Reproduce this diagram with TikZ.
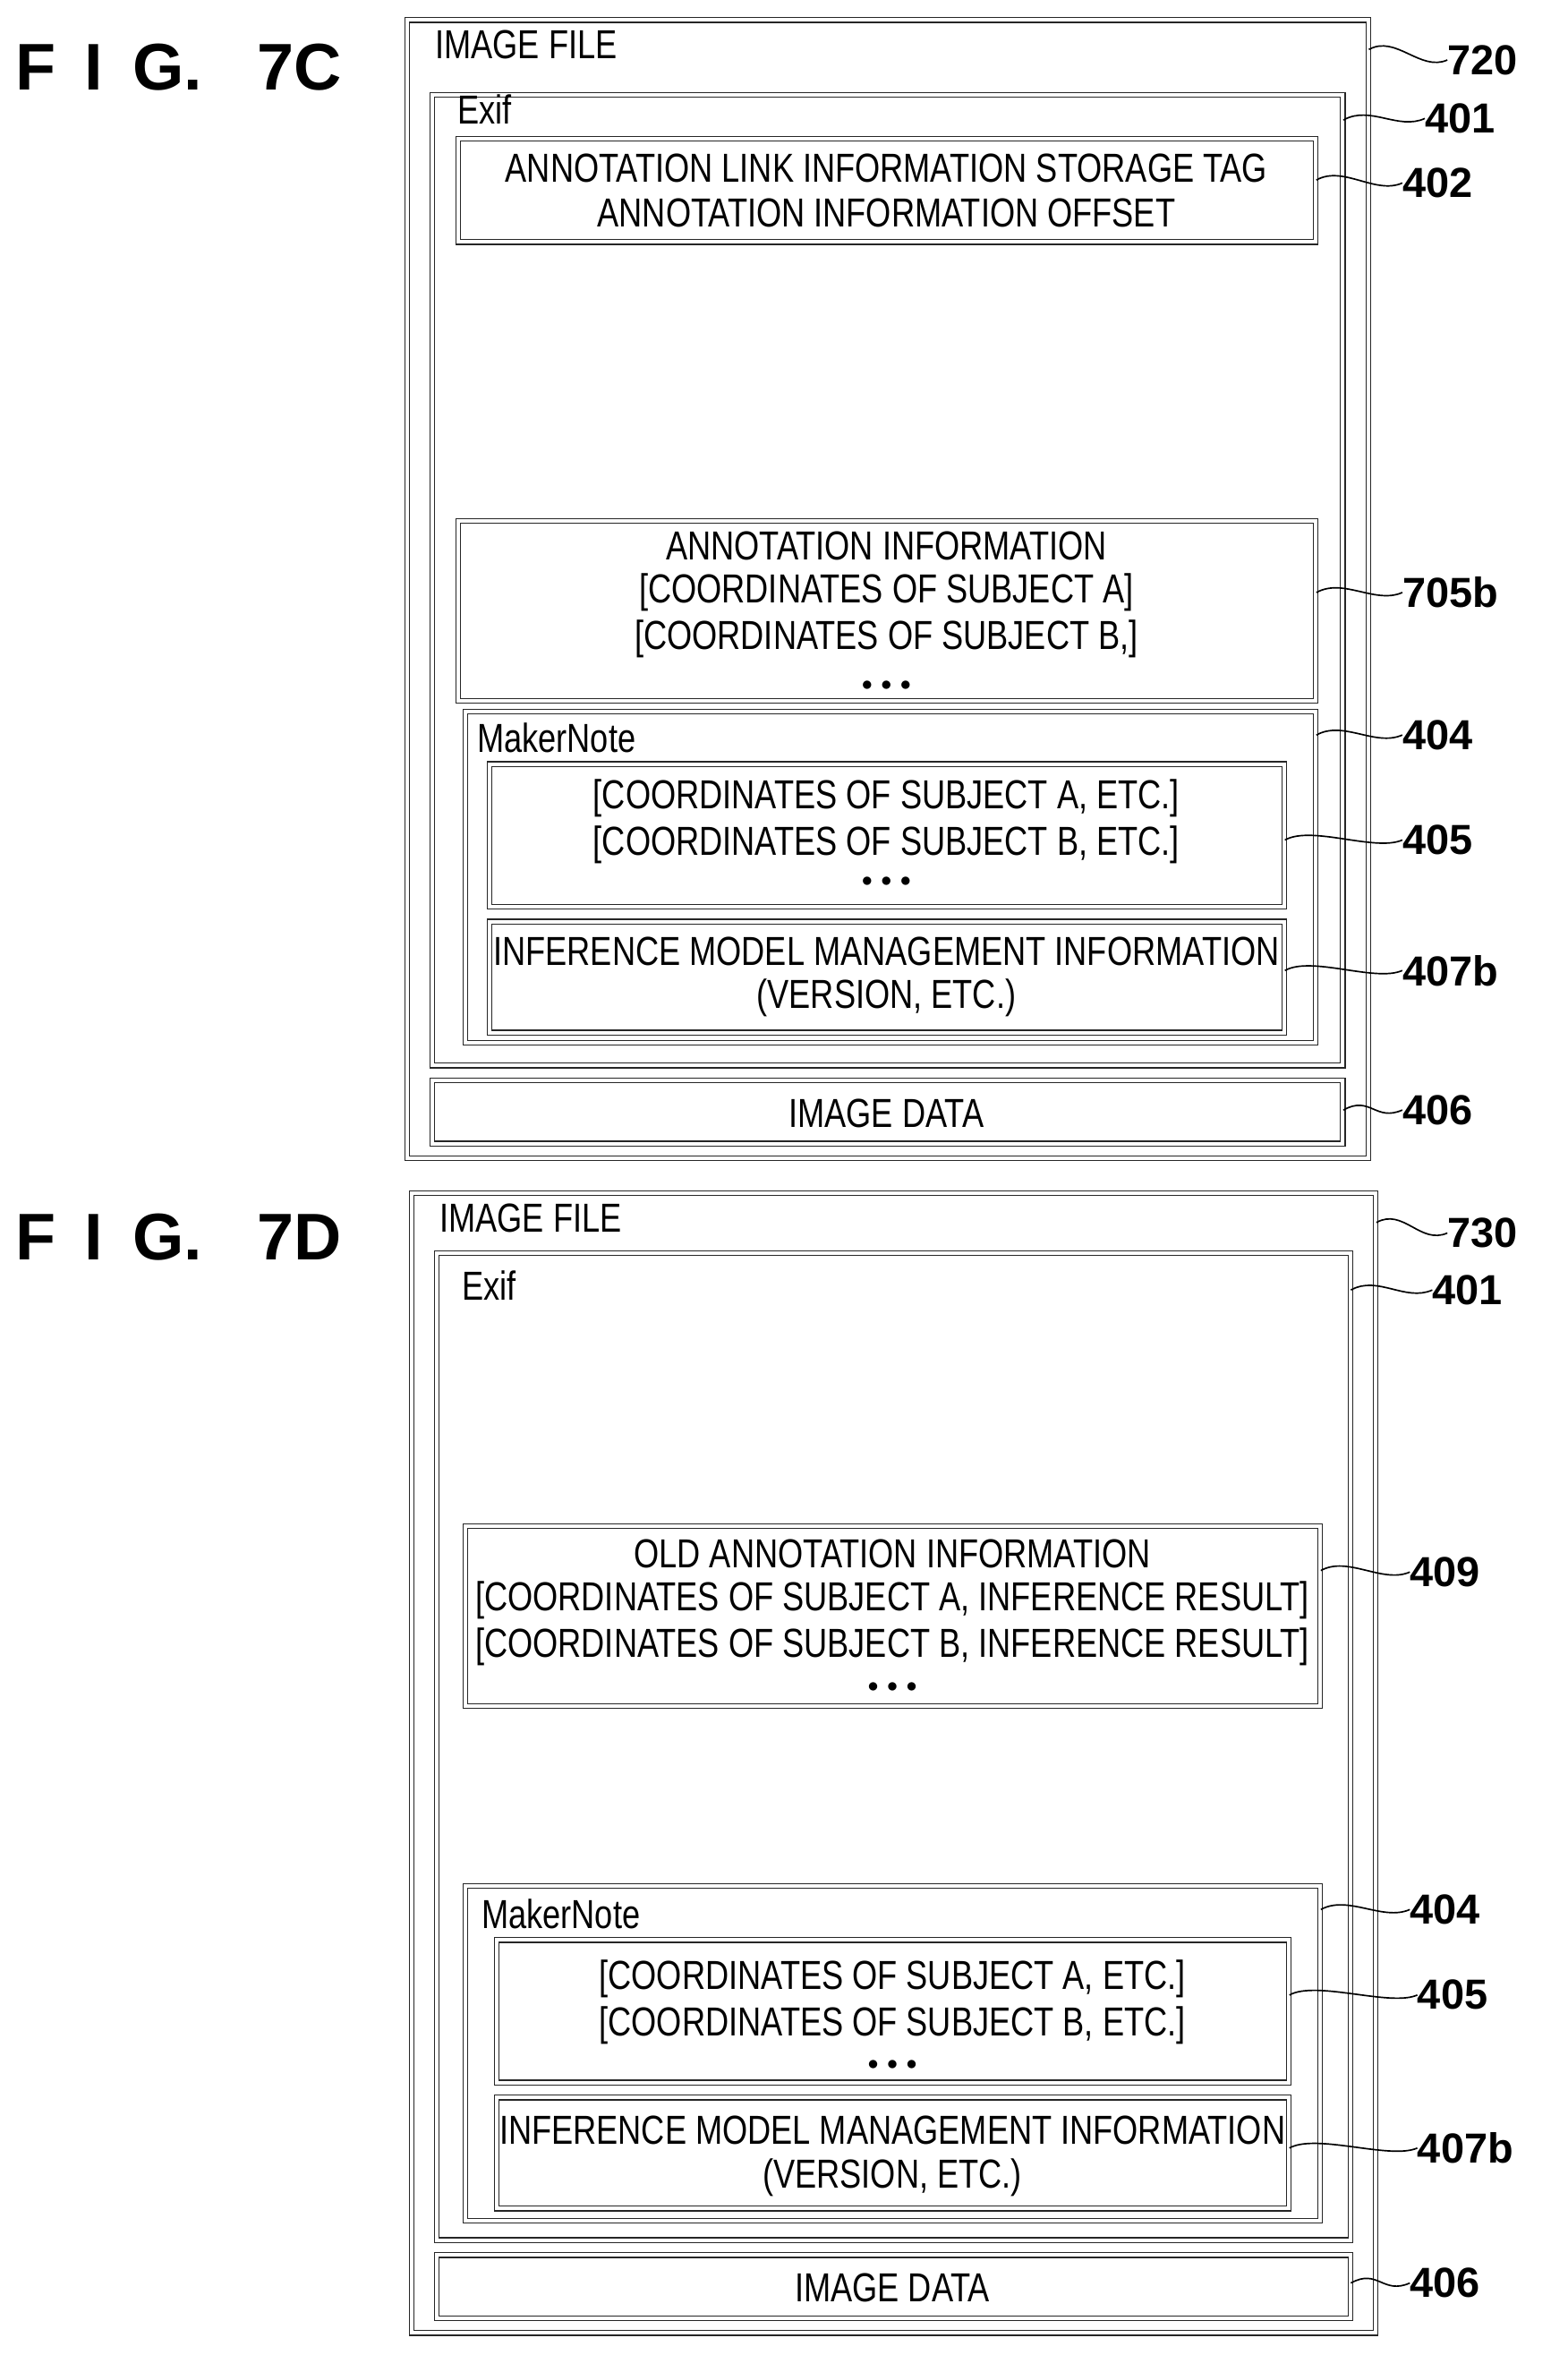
\documentclass[tikz,border=0pt]{standalone}
\usepackage{fontspec}
\setmainfont{Liberation Sans}[FakeStretch=0.8]
\newfontfamily\lblfont{Liberation Sans}
\begin{document}
\begin{tikzpicture}[x=1pt,y=-1pt,
  box/.style={draw=black!85,double=white,double distance=2.4pt,line width=0.7pt,anchor=north west,inner sep=0pt},
  txt/.style={font=\fontsize{27}{30}\selectfont,inner sep=0pt},
  dots/.style={font=\fontsize{14}{16}\selectfont,inner sep=0pt},
  ttl/.style={font=\fontsize{27}{30}\selectfont,inner sep=0pt,anchor=west},
  lbl/.style={font=\lblfont\bfseries\fontsize{28}{30}\selectfont,inner sep=0pt,anchor=west},
  fig/.style={font=\lblfont\bfseries\fontsize{44}{46}\selectfont,inner sep=0pt,anchor=west},
  leader/.style={line width=1pt}]
\useasboundingbox (0,0) rectangle (1045,1570);
\newcommand\bx[5]{\node[box,minimum width=#4-#2,minimum height=#5-#3] (#1) at (#2,#3) {};}
% ---------- 7C
\node[fig] (f7c) at (10,45) {F\,\ I\,\ G.\ \ \ 7C};
\bx{c720}{271}{13}{912}{772}
\bx{c401}{288}{63}{895}{710}
\bx{c402}{305}{92}{877}{161}
\bx{c705}{305}{347}{877}{467}
\bx{c404}{310}{474}{877}{695}
\bx{c405}{326}{509}{856}{604}
\bx{c407}{326}{614}{856}{688}
\bx{c406}{288}{720}{895}{762}
\node[ttl] (t1) at (290,30) {IMAGE FILE};
\node[ttl] (t2) at (305,73) {Exif};
\node[txt] (t3) at (591,112) {ANNOTATION LINK INFORMATION STORAGE TAG};
\node[txt] (t4) at (591,142) {ANNOTATION INFORMATION OFFSET};
\node[txt] (t5) at (591,364) {ANNOTATION INFORMATION};
\node[txt] (t6) at (591,395) {[COORDINATES OF SUBJECT A]};
\node[txt] (t7) at (591,426) {[COORDINATES OF SUBJECT B,]};
\node[dots] (t8) at (591,457) {$\bullet\,\bullet\,\bullet$};
\node[ttl] (t9) at (318,492) {MakerNote};
\node[txt] (t10) at (591,532) {[COORDINATES OF SUBJECT A, ETC.]};
\node[txt] (t11) at (591,563) {[COORDINATES OF SUBJECT B, ETC.]};
\node[dots] (t12) at (591,588) {$\bullet\,\bullet\,\bullet$};
\node[txt] (t13) at (591,634) {INFERENCE MODEL MANAGEMENT INFORMATION};
\node[txt] (t14) at (591,665) {(VERSION, ETC.)};
\node[txt] (t15) at (591,742) {IMAGE DATA};
\node[lbl] (l720) at (965,40) {720};
\node[lbl] (l401c) at (950,79) {401};
\node[lbl] (l402c) at (935,122) {402};
\node[lbl] (l705) at (935,395) {705b};
\node[lbl] (l404c) at (935,490) {404};
\node[lbl] (l405c) at (935,560) {405};
\node[lbl] (l407c) at (935,647) {407b};
\node[lbl] (l406c) at (935,740) {406};
% ---------- 7D
\node[fig] (f7d) at (10,825) {F\,\ I\,\ G.\ \ \ 7D};
\bx{d730}{274}{795}{917}{1555}
\bx{d401}{291}{835}{900}{1493}
\bx{d409}{310}{1017}{880}{1137}
\bx{d404}{310}{1257}{880}{1480}
\bx{d405}{331}{1293}{859}{1388}
\bx{d407}{331}{1398}{859}{1472}
\bx{d406}{291}{1503}{900}{1545}
\node[ttl] (u1) at (293,812) {IMAGE FILE};
\node[ttl] (u2) at (308,857) {Exif};
\node[txt] (u3) at (595,1036) {OLD ANNOTATION INFORMATION};
\node[txt] (u4) at (595,1067) {[COORDINATES OF SUBJECT A, INFERENCE RESULT]};
\node[txt] (u5) at (595,1098) {[COORDINATES OF SUBJECT B, INFERENCE RESULT]};
\node[dots] (u6) at (595,1125) {$\bullet\,\bullet\,\bullet$};
\node[ttl] (u7) at (321,1276) {MakerNote};
\node[txt] (u8) at (595,1319) {[COORDINATES OF SUBJECT A, ETC.]};
\node[txt] (u9) at (595,1350) {[COORDINATES OF SUBJECT B, ETC.]};
\node[dots] (u10) at (595,1377) {$\bullet\,\bullet\,\bullet$};
\node[txt] (u11) at (595,1420) {INFERENCE MODEL MANAGEMENT INFORMATION};
\node[txt] (u12) at (595,1452) {(VERSION, ETC.)};
\node[txt] (u13) at (595,1525) {IMAGE DATA};
\node[lbl] (l730) at (965,822) {730};
\node[lbl] (l401d) at (955,860) {401};
\node[lbl] (l409) at (940,1048) {409};
\node[lbl] (l404d) at (940,1273) {404};
\node[lbl] (l405d) at (945,1330) {405};
\node[lbl] (l407d) at (945,1432) {407b};
\node[lbl] (l406d) at (940,1522) {406};
% ---------- leaders
\foreach \b/\l/\d in {c720/l720/20,c401/l401c/17,c402/l402c/28,d730/l730/20,d401/l401d/25,d409/l409/30,d404/l404d/16}
  \draw[leader] ([yshift=-\d pt]\b.north east) .. controls +(18,-10) and +(-18,8) .. (\l.west);
\foreach \b/\l in {c705/l705,c404/l404c,c405/l405c,c407/l407c,c406/l406c,d405/l405d,d407/l407d,d406/l406d}
  \draw[leader] (\b.east |- \l.west) .. controls +(18,-10) and +(-18,8) .. (\l.west);
\end{tikzpicture}
\end{document}
